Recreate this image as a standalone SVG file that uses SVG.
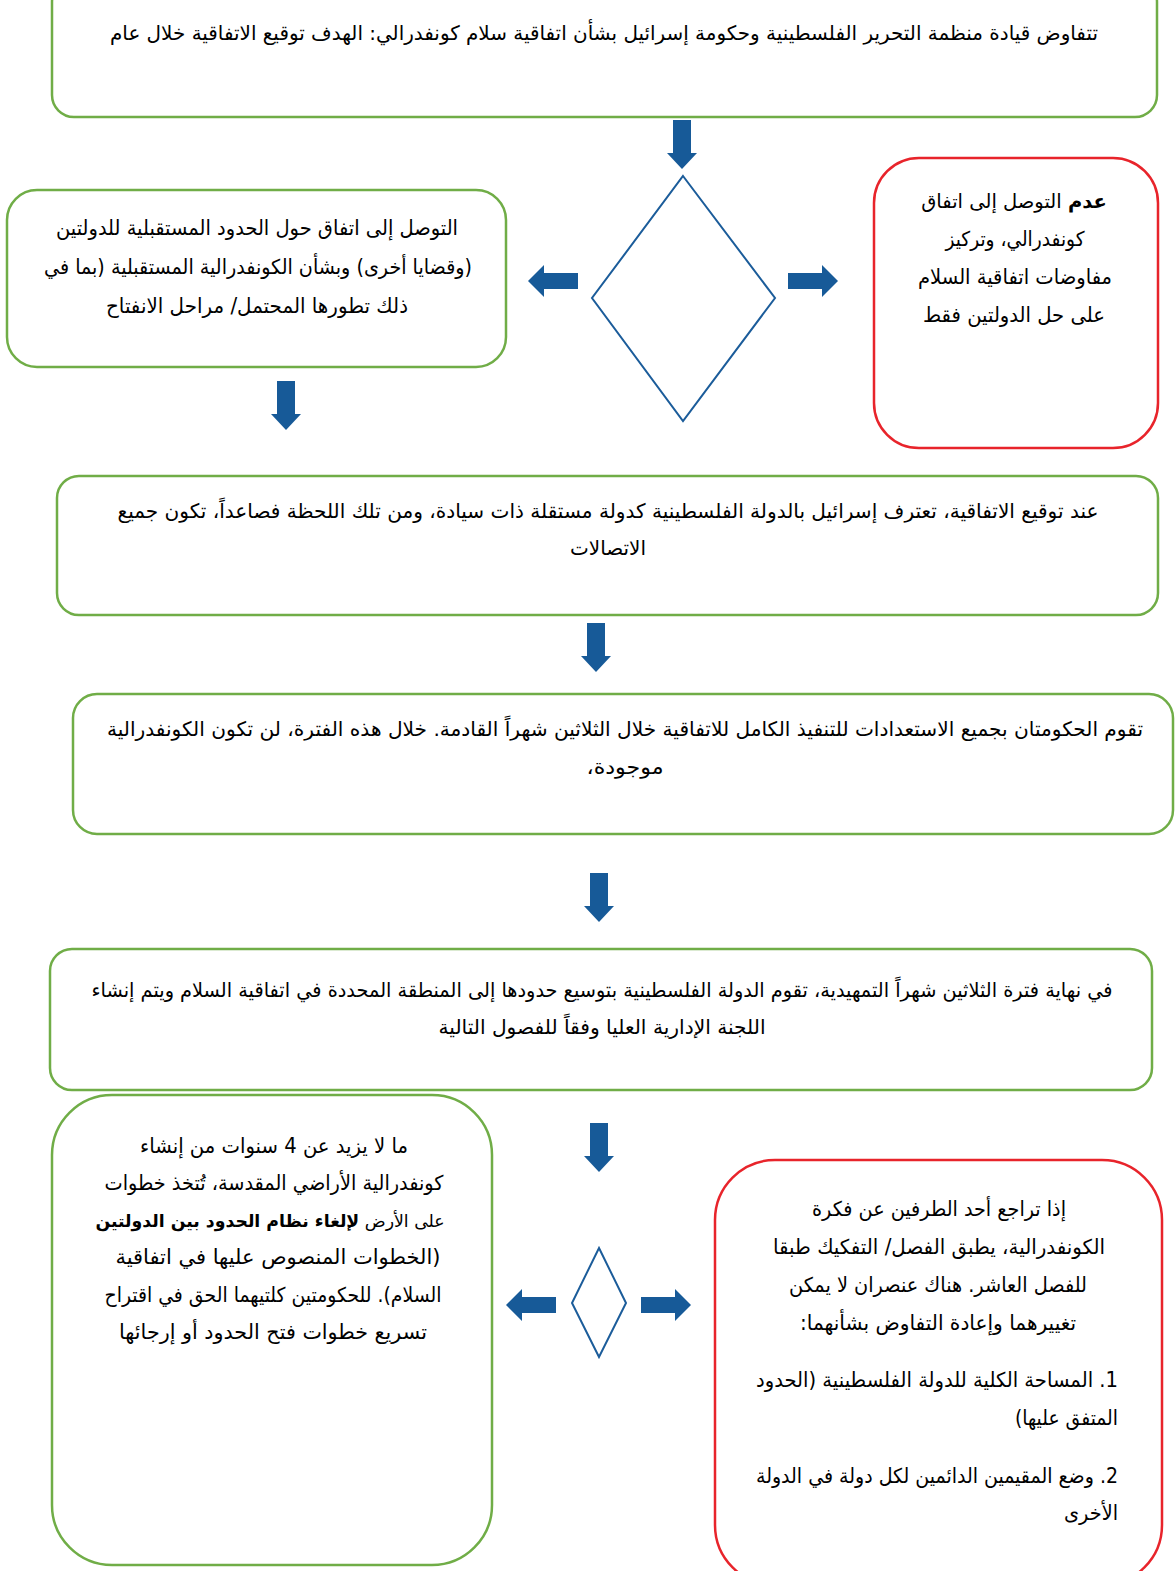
<svg xmlns="http://www.w3.org/2000/svg" width="1175" height="1571" viewBox="0 0 1175 1571">
<style>
.g{fill:#fff;stroke:#70AD47;stroke-width:2.5}
.r{fill:#fff;stroke:#E8242B;stroke-width:2.5}
.d{fill:#fff;stroke:#1B5C9A;stroke-width:2}
.a{fill:#175A98}
text{font-family:"DejaVu Sans",sans-serif;fill:#000;direction:rtl;unicode-bidi:embed}
.c{font-size:20px;text-anchor:middle}
.t{font-size:20.5px;text-anchor:middle}
.s{font-size:20.5px;text-anchor:start}
.b{font-weight:bold}
</style>
<defs>
<path id="ad" d="M-9,0 H9 V33 H15 L0,49 L-15,33 H-9 Z"/>
<path id="ar" d="M0,-8 H34 V-16 L50,0 L34,16 V8 H0 Z"/>
</defs>

<g id="connectors">
<use href="#ad" class="a" x="682" y="120"/>
<use href="#ad" class="a" x="286" y="381"/>
<use href="#ad" class="a" x="596" y="623"/>
<use href="#ad" class="a" x="599" y="873"/>
<use href="#ad" class="a" x="599" y="1123"/>
<use href="#ar" class="a" transform="translate(578,281) scale(-1,1)"/>
<use href="#ar" class="a" x="788" y="281"/>
<use href="#ar" class="a" transform="translate(556,1305) scale(-1,1)"/>
<use href="#ar" class="a" x="641" y="1305"/>
</g>

<g id="n1">
<rect class="g" x="52" y="-20" width="1105" height="137" rx="22"/>
<text class="c" x="604" y="40" textLength="988" lengthAdjust="spacingAndGlyphs">تتفاوض قيادة منظمة التحرير الفلسطينية وحكومة إسرائيل بشأن اتفاقية سلام كونفدرالي: الهدف توقيع الاتفاقية خلال عام</text>
</g>

<g id="decision1">
<polygon class="d" points="683,176 775,298 683,421 592,298"/>
</g>

<g id="n2">
<rect class="g" x="7" y="190" width="499" height="177" rx="30"/>
<text class="t" x="257" y="235" textLength="402" lengthAdjust="spacingAndGlyphs">التوصل إلى اتفاق حول الحدود المستقبلية للدولتين</text>
<text class="t" x="258" y="274" textLength="428" lengthAdjust="spacingAndGlyphs">(وقضايا أخرى) وبشأن الكونفدرالية المستقبلية (بما في</text>
<text class="t" x="257" y="313" textLength="302" lengthAdjust="spacingAndGlyphs">ذلك تطورها المحتمل/ مراحل الانفتاح</text>
</g>

<g id="n3">
<rect class="r" x="874" y="158" width="284" height="290" rx="45"/>
<text class="t" x="1014" y="208" style="font-size:19.5px"><tspan class="b">عدم</tspan> التوصل إلى اتفاق</text>
<text class="t" x="1015" y="246" textLength="139" lengthAdjust="spacingAndGlyphs">كونفدرالي، وتركيز</text>
<text class="t" x="1015" y="284" textLength="194" lengthAdjust="spacingAndGlyphs">مفاوضات اتفاقية السلام</text>
<text class="t" x="1014" y="322" textLength="182" lengthAdjust="spacingAndGlyphs">على حل الدولتين فقط</text>
</g>

<g id="n4">
<rect class="g" x="57" y="476" width="1101" height="139" rx="22"/>
<text class="c" x="608" y="518" textLength="981" lengthAdjust="spacingAndGlyphs">عند توقيع الاتفاقية، تعترف إسرائيل بالدولة الفلسطينية كدولة مستقلة ذات سيادة، ومن تلك اللحظة فصاعداً، تكون جميع</text>
<text class="c" x="608" y="555" textLength="76" lengthAdjust="spacingAndGlyphs">الاتصالات</text>
</g>

<g id="n5">
<rect class="g" x="73" y="694" width="1100" height="140" rx="24"/>
<text class="c" x="625" y="736" textLength="1036" lengthAdjust="spacingAndGlyphs">تقوم الحكومتان بجميع الاستعدادات للتنفيذ الكامل للاتفاقية خلال الثلاثين شهراً القادمة. خلال هذه الفترة، لن تكون الكونفدرالية</text>
<text class="c" x="625" y="774" textLength="77" lengthAdjust="spacingAndGlyphs">موجودة،</text>
</g>

<g id="n6">
<rect class="g" x="50" y="949" width="1102" height="141" rx="22"/>
<text class="c" x="602" y="997" textLength="1021" lengthAdjust="spacingAndGlyphs">في نهاية فترة الثلاثين شهراً التمهيدية، تقوم الدولة الفلسطينية بتوسيع حدودها إلى المنطقة المحددة في اتفاقية السلام ويتم إنشاء</text>
<text class="c" x="602" y="1034" textLength="327" lengthAdjust="spacingAndGlyphs">اللجنة الإدارية العليا وفقاً للفصول التالية</text>
</g>

<g id="decision2">
<polygon class="d" points="599,1248 626,1303 599,1357 572,1303"/>
</g>

<g id="n7">
<rect class="g" x="52" y="1095" width="440" height="470" rx="60"/>
<text class="t" x="274" y="1153" textLength="268" lengthAdjust="spacingAndGlyphs">ما لا يزيد عن 4 سنوات من إنشاء</text>
<text class="t" x="274" y="1190" textLength="339" lengthAdjust="spacingAndGlyphs">كونفدرالية الأراضي المقدسة، تُتخذ خطوات</text>
<text class="t" x="270" y="1227" style="font-size:17.3px">على الأرض <tspan class="b">لإلغاء نظام الحدود بين الدولتين</tspan></text>
<text class="t" x="278" y="1264" textLength="325" lengthAdjust="spacingAndGlyphs">(الخطوات المنصوص عليها في اتفاقية</text>
<text class="t" x="273" y="1302" textLength="337" lengthAdjust="spacingAndGlyphs">السلام). للحكومتين كلتيهما الحق في اقتراح</text>
<text class="t" x="273" y="1339" textLength="308" lengthAdjust="spacingAndGlyphs">تسريع خطوات فتح الحدود أو إرجائها</text>
</g>

<g id="n8">
<rect class="r" x="715" y="1160" width="447" height="425" rx="60"/>
<text class="t" x="939" y="1216" textLength="254" lengthAdjust="spacingAndGlyphs">إذا تراجع أحد الطرفين عن فكرة</text>
<text class="t" x="939" y="1254" textLength="332" lengthAdjust="spacingAndGlyphs">الكونفدرالية، يطبق الفصل/ التفكيك طبقا</text>
<text class="t" x="938" y="1292" textLength="298" lengthAdjust="spacingAndGlyphs">للفصل العاشر. هناك عنصران لا يمكن</text>
<text class="t" x="938" y="1330" textLength="276" lengthAdjust="spacingAndGlyphs">تغييرهما وإعادة التفاوض بشأنهما:</text>
<text class="s" x="1118" y="1387" textLength="362" lengthAdjust="spacingAndGlyphs">1. المساحة الكلية للدولة الفلسطينية (الحدود</text>
<text class="s" x="1118" y="1425" textLength="103" lengthAdjust="spacingAndGlyphs">المتفق عليها)</text>
<text class="s" x="1118" y="1483" textLength="362" lengthAdjust="spacingAndGlyphs">2. وضع المقيمين الدائمين لكل دولة في الدولة</text>
<text class="s" x="1118" y="1520" textLength="54" lengthAdjust="spacingAndGlyphs">الأخرى</text>
</g>
</svg>
